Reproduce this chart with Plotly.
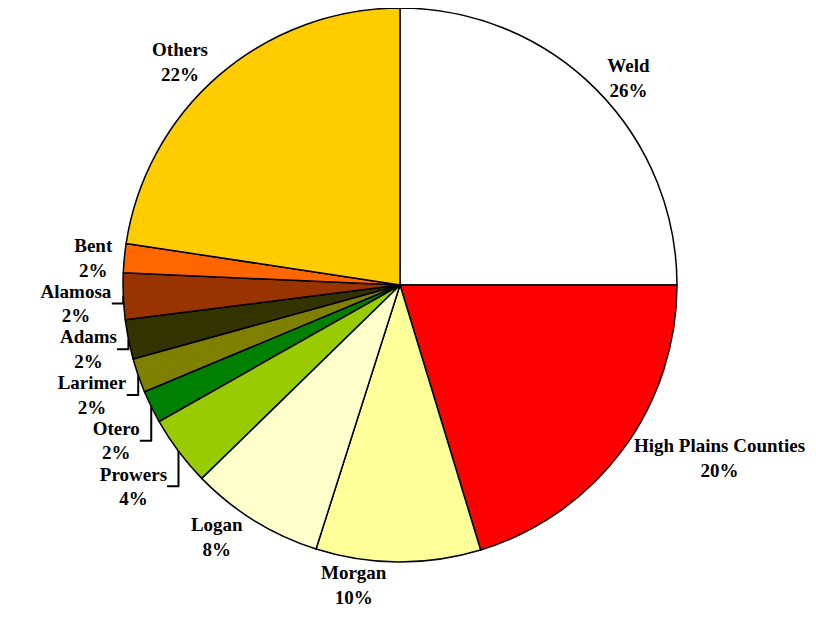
import plotly.graph_objects as go

labels = ["Weld", "High Plains Counties", "Morgan", "Logan", "Prowers", "Otero",
          "Larimer", "Adams", "Alamosa", "Bent", "Others"]
values = [25.0, 20.3, 9.6, 7.8, 4.1, 1.9, 2.0, 2.3, 2.7, 1.7, 22.6]
pct_text = ["26%", "20%", "10%", "8%", "4%", "2%", "2%", "2%", "2%", "2%", "22%"]
colors = ["#FFFFFF", "#FF0000", "#FFFF99", "#FFFFCC", "#99CC00", "#008000",
          "#808000", "#333300", "#993300", "#FF6600", "#FFCC00"]

fig = go.Figure(go.Pie(
    labels=labels, values=values, text=pct_text,
    sort=False, direction="clockwise", rotation=0,
    marker=dict(colors=colors, line=dict(color="black", width=1.5)),
    texttemplate="<b>%{label}<br>%{text}</b>",
    textposition="outside", showlegend=False,
    textfont=dict(family="Liberation Serif", size=19, color="black"),
    hoverinfo="label+percent",
    domain=dict(x=[0, 1], y=[0, 1]),
    automargin=False,
))
fig.update_layout(
    width=816, height=621,
    margin=dict(l=0, r=32, t=0, b=67),
    paper_bgcolor="white", plot_bgcolor="white",
)
fig.write_html("out.html")
